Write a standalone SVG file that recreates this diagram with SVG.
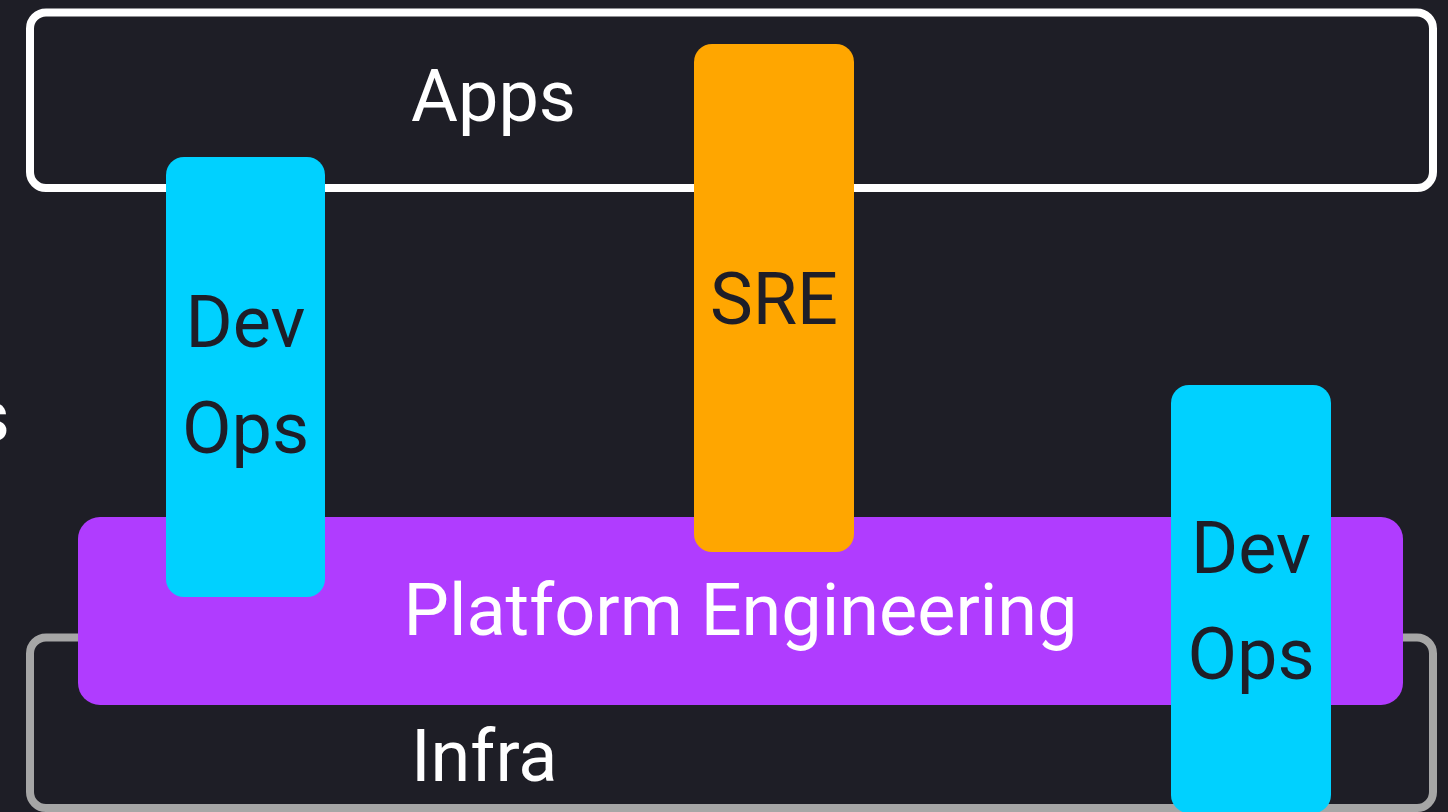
<svg xmlns="http://www.w3.org/2000/svg" width="1448" height="812" viewBox="0 0 1448 812">
<style>
text{font-family:Roboto,"Liberation Sans",sans-serif;font-size:72px}
.lt{fill:#ffffff}
.dk{fill:#1e1e28}
.mid{text-anchor:middle}
</style>
<rect width="1448" height="812" fill="#1e1e26"/>
<g id="edge-text"><text class="lt" x="10" y="441" text-anchor="end">s</text></g>
<g id="apps">
<rect x="30" y="12.5" width="1403" height="175.5" rx="16" fill="none" stroke="#ffffff" stroke-width="8"/>
<text class="lt" x="411" y="121">Apps</text>
</g>
<g id="infra">
<rect x="30" y="637.5" width="1403" height="170.5" rx="16" fill="none" stroke="#a6a6a6" stroke-width="8"/>
<text class="lt" x="411" y="781">Infra</text>
</g>
<g id="platform">
<rect x="78" y="517" width="1325" height="188" rx="22" fill="#b03cff"/>
<text class="lt mid" x="740.5" y="635">Platform Engineering</text>
</g>
<g id="devops-left">
<rect x="166" y="157" width="159" height="440" rx="18" fill="#00d1ff"/>
<text class="dk mid" x="245.5" y="347">Dev</text>
<text class="dk mid" x="245.5" y="453">Ops</text>
</g>
<g id="sre">
<rect x="694" y="44" width="160" height="508" rx="18" fill="#ffa600"/>
<text class="dk mid" x="774" y="324">SRE</text>
</g>
<g id="devops-right">
<rect x="1171" y="385" width="160" height="428" rx="18" fill="#00d1ff"/>
<text class="dk mid" x="1251" y="573">Dev</text>
<text class="dk mid" x="1251" y="679">Ops</text>
</g>
<g id="connectors"></g>
</svg>
